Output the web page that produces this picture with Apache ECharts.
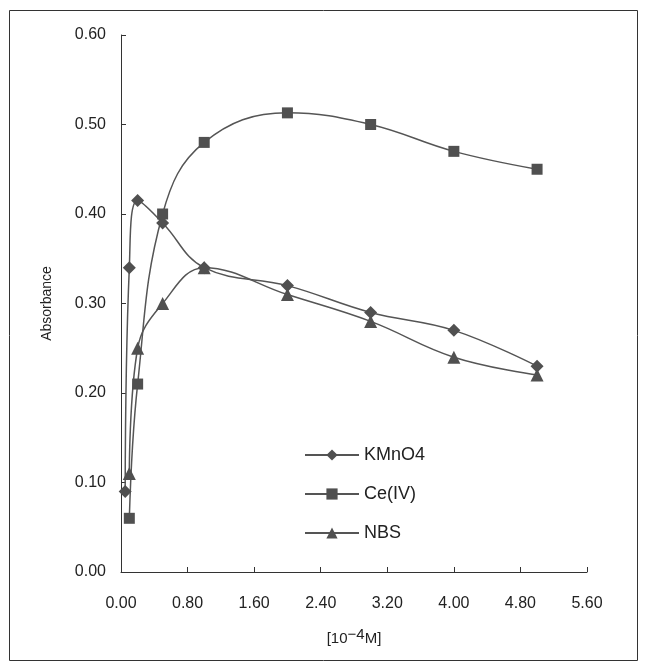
<!DOCTYPE html>
<html>
<head>
<meta charset="utf-8">
<script src="https://cdn.jsdelivr.net/npm/echarts@6/dist/echarts.min.js"></script>
<style>
  html, body { margin: 0; padding: 0; background: #fff; }
  #main { width: 647px; height: 671px; }
</style>
</head>
<body>
<div id="main"></div>
<script>
// 数据
var kmnoX = [0.05, 0.1, 0.2, 0.5, 1.0, 2.0, 3.0, 4.0, 5.0];
var kmnoY = [0.09, 0.34, 0.415, 0.39, 0.34, 0.32, 0.29, 0.27, 0.23];
var ceX = [0.1, 0.2, 0.5, 1.0, 2.0, 3.0, 4.0, 5.0];
var ceY = [0.06, 0.21, 0.40, 0.48, 0.513, 0.50, 0.47, 0.45];
var nbsX = [0.1, 0.2, 0.5, 1.0, 2.0, 3.0, 4.0, 5.0];
var nbsY = [0.11, 0.25, 0.30, 0.34, 0.31, 0.28, 0.24, 0.22];

function pairs(xs, ys) {
    return xs.map(function (x, i) { return [x, ys[i]]; });
}

var chart = echarts.init(document.getElementById('main'), null, { renderer: 'canvas' });
var lineColor = '#555555';
var font = 'Liberation Sans, Arial, sans-serif';

function mkSeries(name, symbol, size, data) {
    return {
        name: name,
        type: 'line',
        data: data,
        smooth: 0.4,
        symbol: symbol,
        symbolSize: size,
        lineStyle: { color: lineColor, width: 1.5 },
        itemStyle: { color: '#505050' },
        emphasis: { disabled: true }
    };
}

var option = {
    animation: false,
    textStyle: { fontFamily: font },
    graphic: [{
        type: 'rect',
        shape: { x: 9.5, y: 10.5, width: 628, height: 650 },
        style: { fill: 'none', stroke: '#333', lineWidth: 1 }
    }],
    grid: { left: 121, right: 60, top: 35, bottom: 99 },
    legend: {
        orient: 'vertical',
        left: 299,
        top: 441,
        itemWidth: 54,
        itemHeight: 14,
        itemGap: 21,
        textStyle: { fontSize: 18, color: '#222', fontFamily: font },
        data: ['KMnO4', 'Ce(IV)', 'NBS']
    },
    xAxis: {
        type: 'value',
        min: 0, max: 5.6, interval: 0.8,
        name: '{a|[10}{s|−4}{a|M]}',
        nameLocation: 'middle',
        nameGap: 55,
        nameTextStyle: {
            rich: {
                a: { fontSize: 15, color: '#222', fontFamily: font },
                s: { fontSize: 15, color: '#222', fontFamily: font, verticalAlign: 'bottom', padding: [0, 0, 9, 0] }
            }
        },
        axisLine: { lineStyle: { color: '#333', width: 1 } },
        axisTick: { inside: true, length: 5, lineStyle: { color: '#333' } },
        axisLabel: { fontSize: 16, color: '#222', margin: 24, formatter: function (v) { return v.toFixed(2); } },
        splitLine: { show: false }
    },
    yAxis: {
        type: 'value',
        min: 0, max: 0.6, interval: 0.1,
        name: 'Absorbance',
        nameLocation: 'middle',
        nameGap: 67,
        nameTextStyle: { fontSize: 14, color: '#222' },
        axisLine: { show: true, lineStyle: { color: '#333', width: 1 } },
        axisTick: { show: true, inside: true, length: 5, lineStyle: { color: '#333' } },
        axisLabel: { fontSize: 16, color: '#222', margin: 15, formatter: function (v) { return v.toFixed(2); } },
        splitLine: { show: false }
    },
    series: [
        mkSeries('KMnO4', 'diamond', 13, pairs(kmnoX, kmnoY)),
        mkSeries('Ce(IV)', 'rect', 11, pairs(ceX, ceY)),
        mkSeries('NBS', 'triangle', 13, pairs(nbsX, nbsY))
    ]
};

chart.setOption(option);
</script>
</body>
</html>
